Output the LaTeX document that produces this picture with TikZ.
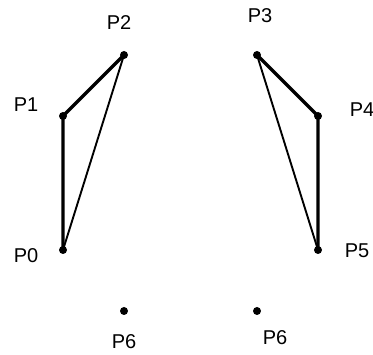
\documentclass[tikz,border=0pt]{standalone}
\usepackage{fontspec}
\setmainfont{Liberation Sans}
\begin{document}
\begin{tikzpicture}[x=1pt,y=-1pt,
  pt/.style={circle,fill=black,inner sep=0pt,minimum size=8pt},
  lbl/.style={inner sep=0pt,font=\fontsize{20}{20}\selectfont},
  thickln/.style={line width=3.4pt},
  thinln/.style={line width=1.9pt}]
\useasboundingbox (0,0) rectangle (373,355);
\node[pt] (p0) at (63,250) {};
\node[pt] (p1) at (63,116) {};
\node[pt] (p2) at (124,55) {};
\node[pt] (p3) at (257,55) {};
\node[pt] (p4) at (318,116) {};
\node[pt] (p5) at (318,250) {};
\node[pt] (p6a) at (124,311) {};
\node[pt] (p6b) at (257,311) {};
\node[lbl] (l0) at (26,256) {P0};
\node[lbl] (l1) at (26,105) {P1};
\node[lbl] (l2) at (119,23) {P2};
\node[lbl] (l3) at (260,16) {P3};
\node[lbl] (l4) at (362,110) {P4};
\node[lbl] (l5) at (357,251) {P5};
\node[lbl] (l6a) at (124,342) {P6};
\node[lbl] (l6b) at (275,338) {P6};
\draw[thickln] (p0.center) -- (p1.center) -- (p2.center);
\draw[thinln] (p0.center) -- (p2.center);
\draw[thickln] (p3.center) -- (p4.center) -- (p5.center);
\draw[thinln] (p3.center) -- (p5.center);
\end{tikzpicture}
\end{document}
